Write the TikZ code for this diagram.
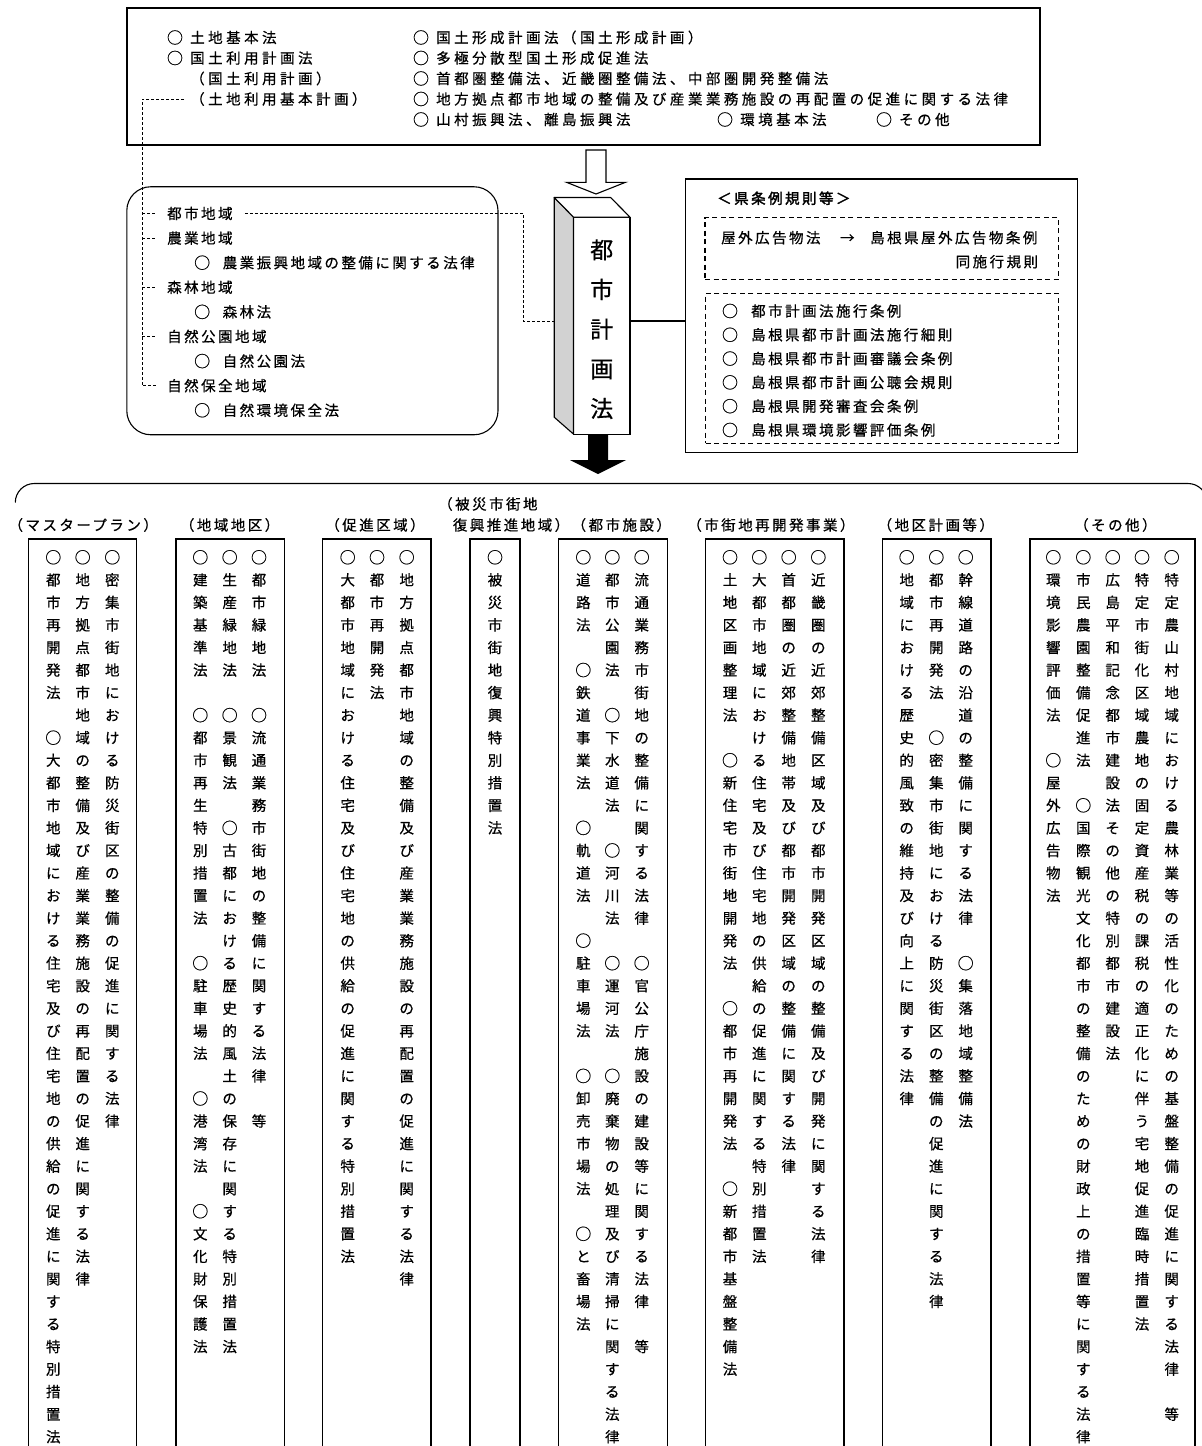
\documentclass[tikz,border=0pt]{standalone}
\usepackage{fontspec}
\setmainfont{Noto Sans CJK JP}
\newfontfamily\jpA[LetterSpace=17,FakeBold=0.6]{Noto Sans CJK JP}
\newfontfamily\jpT[LetterSpace=24,FakeBold=0.6]{Noto Sans CJK JP}
\newfontfamily\jpV[FakeBold=0.6]{Noto Sans CJK JP}
\newfontfamily\jpB[FakeBold=2,LetterSpace=17]{Noto Sans CJK JP}
\usetikzlibrary{calc}

\newcount\vrow
\def\vcend{}
\newcommand\vcolumn[3]{\def\vcname{#1}\def\vcx{#2}\global\vrow=0\relax\vcstep#3\vcend}
\def\vcstep#1{%
  \ifx#1\vcend\else
    \ifx#1.\else
      \ifx#1○%
        \node[circ] (\vcname-\the\vrow) at (\vcx,{557.3+22.55*\the\vrow}) {#1};%
      \else
        \node[vch] (\vcname-\the\vrow) at (\vcx,{557.3+22.55*\the\vrow}) {#1};%
      \fi
    \fi
    \global\advance\vrow by 1\relax
    \expandafter\vcstep
  \fi}

\tikzset{
  tx/.style={font={\jpA\fontsize{14.5pt}{17pt}\selectfont}, inner sep=0pt, text height=12pt, text depth=1pt, anchor=west},
  ttop/.style={tx, font={\jpT\fontsize{14.5pt}{17pt}\selectfont}},
  hd/.style={tx, anchor=center},
  circ/.style={font={\jpV\fontsize{16pt}{18pt}\selectfont}, inner sep=0pt, text height=13.2pt, text depth=1.1pt, anchor=center},
  vch/.style={font={\jpV\fontsize{14.5pt}{17pt}\selectfont}, inner sep=0pt, text height=12pt, text depth=1pt, anchor=center},
  pch/.style={font={\jpV\fontsize{23pt}{25pt}\selectfont}, inner sep=0pt, text height=19pt, text depth=2pt, anchor=center},
  frame/.style={draw, line width=1.1pt, inner sep=0pt, outer sep=0pt},
  dbox/.style={draw, line width=1.1pt, dash pattern=on 5pt off 3.5pt, inner sep=0pt, outer sep=0pt},
  tree/.style={line width=0.9pt, dash pattern=on 3pt off 2pt},
  obox/.style={line width=1.1pt},
}

\begin{document}
\begin{tikzpicture}[x=1pt,y=-1pt]
\useasboundingbox (0,0) rectangle (1202,1446);
\fill[white] (0,0) rectangle (1202,1446);

% ---------- top box ----------
\node[frame, minimum width=913pt, minimum height=137pt] (topbox) at (583.5,76.5) {};
\node[circ] (o1) at (175,37.5) {○};
\node[ttop] (tochikihon) at (190,37.5) {土地基本法};
\node[circ] (o2) at (175,58) {○};
\node[ttop] (kokudoriyo) at (190,58) {国土利用計画法};
\node[ttop] (kokudoriyokk) at (190,78.5) {（国土利用計画）};
\node[ttop] (tochiriyo) at (190,99) {（土地利用基本計画）};
\node[circ] (o3) at (421,37.5) {○};
\node[ttop] (keisei) at (436,37.5) {国土形成計画法（国土形成計画）};
\node[circ] (o4) at (421,58) {○};
\node[ttop] (takyoku) at (436,58) {多極分散型国土形成促進法};
\node[circ] (o5) at (421,78.5) {○};
\node[ttop] (shutoken) at (436,78.5) {首都圏整備法、近畿圏整備法、中部圏開発整備法};
\node[circ] (o6) at (421,99) {○};
\node[ttop] (chihokyoten) at (436,99) {地方拠点都市地域の整備及び産業業務施設の再配置の促進に関する法律};
\node[circ] (o7) at (421,119.5) {○};
\node[ttop] (sanson) at (436,119.5) {山村振興法、離島振興法};
\node[circ] (o8) at (725,119.5) {○};
\node[ttop] (kankyo) at (740,119.5) {環境基本法};
\node[circ] (o9) at (884,119.5) {○};
\node[ttop] (sonota) at (899,119.5) {その他};

% ---------- left rounded box ----------
\node[frame, rounded corners=24pt, minimum width=371.2pt, minimum height=248pt] (leftbox) at (312.4,310.75) {};
\node[tx] (toshi) at (167,213.5) {都市地域};
\node[tx] (nogyo) at (167,238.1) {農業地域};
\node[circ] (o10) at (202.2,262.7) {○};
\node[tx] (noshin) at (222.5,262.7) {農業振興地域の整備に関する法律};
\node[tx] (shinrin) at (167,287.3) {森林地域};
\node[circ] (o11) at (202.2,311.9) {○};
\node[tx] (shinrinho) at (222.5,311.9) {森林法};
\node[tx] (koen) at (167,336.5) {自然公園地域};
\node[circ] (o12) at (202.2,361.1) {○};
\node[tx] (koenho) at (222.5,361.1) {自然公園法};
\node[tx] (hozen) at (167,385.7) {自然保全地域};
\node[circ] (o13) at (202.2,410.3) {○};
\node[tx] (hozenho) at (222.5,410.3) {自然環境保全法};

% tree of dashed lines
\coordinate (treebot) at (142,385.7);
\draw[tree] ([xshift=-6pt]tochiriyo.west) -| (treebot) -- ([xshift=-11pt]hozen.west);
\foreach \n in {toshi,nogyo,shinrin,koen}{
  \draw[tree] (treebot |- \n.west) -- ([xshift=-11pt]\n.west);
}

% ---------- pillar ----------
\node[frame, fill=white, minimum width=56.5pt, minimum height=217pt] (pillar) at (601.75,325.6) {};
\fill[gray!35] (554.2,197.5) -- (pillar.north west) -- (pillar.south west) -- (554.2,417.2) -- cycle;
\draw[line width=1.1pt, line join=round] (554.2,197.5) -- (pillar.north west) -- (pillar.south west) -- (554.2,417.2) -- cycle;
\draw[line width=1.1pt, fill=white, line join=round] (554.2,197.5) -- (610.6,197.5) -- (pillar.north east) -- (pillar.north west) -- cycle;
\node[pch] (p1) at (601.75,250) {都};
\node[pch] (p2) at (601.75,289.7) {市};
\node[pch] (p3) at (601.75,329.4) {計};
\node[pch] (p4) at (601.75,369.1) {画};
\node[pch] (p5) at (601.75,408.8) {法};

% hollow arrow from top box to pillar
\draw[line width=1.1pt, fill=white, line join=miter]
  (586,150) -- (586,182.3) -- (566.5,182.3) -- (596,194) -- (625.5,182.3) -- (606,182.3) -- (606,150) -- cycle;

% black arrow below pillar
\fill[black] (588,434.1) -- (588,460) -- (570,460) -- (598,474) -- (626,460) -- (608,460) -- (608,434.1) -- cycle;

% connectors to pillar
\coordinate (cy) at (0,321);
\coordinate (turn) at (523,321);
\coordinate (pside) at (554.2,321);
\draw[tree] ([xshift=12pt]toshi.east) -| (turn) -- (pside);

% ---------- right box ----------
\node[frame, minimum width=392pt, minimum height=273.3pt] (rightbox) at (881.7,315.65) {};
\draw[line width=1.1pt] (pillar.east |- cy) -- (rightbox.west |- cy);
\node[tx, font={\jpB\fontsize{14.5pt}{17pt}\selectfont}] (jorei) at (717,198.3) {＜県条例規則等＞};
\node[dbox, minimum width=353.3pt, minimum height=62pt] (dbox1) at (881.65,248.3) {};
\node[tx] (okugai) at (721,237.7) {屋外広告物法};
\node[vch] (yaji) at (847.3,237.7) {→};
\node[tx] (shimane) at (870,237.7) {島根県屋外広告物条例};
\node[tx] (dosekou) at (955.5,261.7) {同施行規則};
\node[dbox, minimum width=352.6pt, minimum height=150pt] (dbox2) at (882,368.3) {};
\foreach \i/\t in {0/都市計画法施行条例,1/島根県都市計画法施行細則,2/島根県都市計画審議会条例,3/島根県都市計画公聴会規則,4/島根県開発審査会条例,5/島根県環境影響評価条例}{
  \node[circ] (ro\i) at (730,{311+23.8*\i}) {○};
  \node[tx] (rt\i) at (751,{311+23.8*\i}) {\t};
}

% ---------- bottom bracket ----------
\draw[line width=1.1pt, rounded corners=19pt] (15.3,502.5) |- (1207,483.5) -- (1207,530);

% headers
\node[hd] (h1) at (83.2,525) {（マスタープラン）};
\node[hd] (h2) at (229.6,525) {（地域地区）};
\node[hd] (h3) at (375,525) {（促進区域）};
\node[tx] (h4a) at (438,504) {（被災市街地};
\node[tx] (h4b) at (452.7,525) {復興推進地域）（都市施設）};
\node[hd] (h6) at (770.9,525) {（市街地再開発事業）};
\node[hd] (h7) at (935.8,525) {（地区計画等）};
\node[hd] (h8) at (1115.4,525) {（その他）};

% open boxes
\foreach \l/\r in {28.3/136.7, 176/284.3, 322.7/431, 470/520, 558.3/667.3, 705.7/844, 882.7/991, 1030/1195}{
  \draw[obox] (\l,1452) -- (\l,539) -- (\r,539) -- (\r,1452);
}

% vertical columns
\vcolumn{c1a}{53.3}{○都市再開発法.○大都市地域における住宅及び住宅地の供給の促進に関する特別措置法}
\vcolumn{c1b}{82.7}{○地方拠点都市地域の整備及び産業業務施設の再配置の促進に関する法律}
\vcolumn{c1c}{112.3}{○密集市街地における防災街区の整備の促進に関する法律}
\vcolumn{c2a}{200.3}{○建築基準法.○都市再生特別措置法.○駐車場法.○港湾法.○文化財保護法}
\vcolumn{c2b}{229.7}{○生産緑地法.○景観法.○古都における歴史的風土の保存に関する特別措置法}
\vcolumn{c2c}{259}{○都市緑地法.○流通業務市街地の整備に関する法律.等}
\vcolumn{c3a}{347.7}{○大都市地域における住宅及び住宅地の供給の促進に関する特別措置法}
\vcolumn{c3b}{377}{○都市再開発法}
\vcolumn{c3c}{406.7}{○地方拠点都市地域の整備及び産業業務施設の再配置の促進に関する法律}
\vcolumn{c4a}{495}{○被災市街地復興特別措置法}
\vcolumn{c5a}{583.3}{○道路法.○鉄道事業法.○軌道法.○駐車場法.○卸売市場法.○と畜場法}
\vcolumn{c5b}{612.3}{○都市公園法.○下水道法.○河川法.○運河法.○廃棄物の処理及び清掃に関する法律}
\vcolumn{c5c}{641.7}{○流通業務市街地の整備に関する法律.○官公庁施設の建設等に関する法律.等}
\vcolumn{c6a}{730}{○土地区画整理法.○新住宅市街地開発法.○都市再開発法.○新都市基盤整備法}
\vcolumn{c6b}{759.3}{○大都市地域における住宅及び住宅地の供給の促進に関する特別措置法}
\vcolumn{c6c}{788.7}{○首都圏の近郊整備地帯及び都市開発区域の整備に関する法律}
\vcolumn{c6d}{818.3}{○近畿圏の近郊整備区域及び都市開発区域の整備及び開発に関する法律}
\vcolumn{c7a}{906.7}{○地域における歴史的風致の維持及び向上に関する法律}
\vcolumn{c7b}{936.3}{○都市再開発法.○密集市街地における防災街区の整備の促進に関する法律}
\vcolumn{c7c}{965.7}{○幹線道路の沿道の整備に関する法律.○集落地域整備法}
\vcolumn{c8a}{1053.3}{○環境影響評価法.○屋外広告物法}
\vcolumn{c8b}{1083.3}{○市民農園整備促進法.○国際観光文化都市の整備のための財政上の措置等に関する法律}
\vcolumn{c8c}{1112.7}{○広島平和記念都市建設法その他の特別都市建設法}
\vcolumn{c8d}{1142}{○特定市街化区域農地の固定資産税の課税の適正化に伴う宅地促進臨時措置法}
\vcolumn{c8e}{1171.7}{○特定農山村地域における農林業等の活性化のための基盤整備の促進に関する法律.等}

\end{tikzpicture}
\end{document}
